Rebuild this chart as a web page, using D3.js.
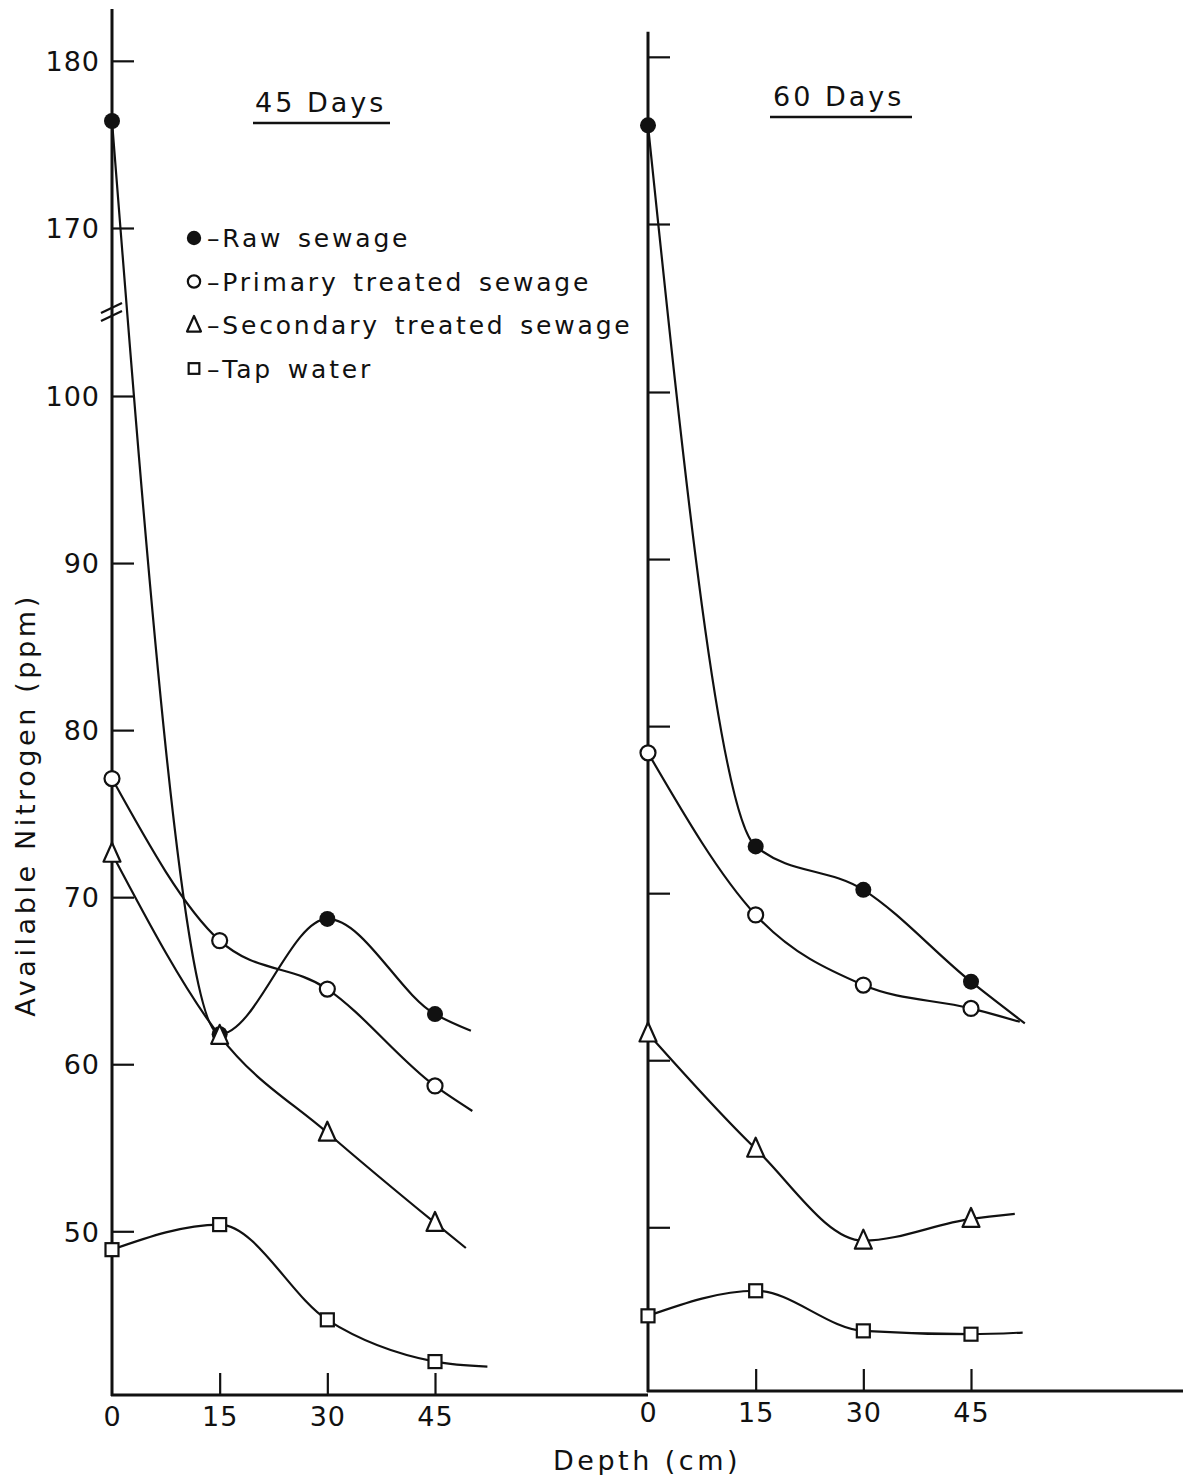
<!DOCTYPE html>
<html>
<head>
<meta charset="utf-8">
<script src="https://cdn.jsdelivr.net/npm/d3@7"></script>
<style>
  html, body { margin: 0; padding: 0; background: #fff; }
  svg { display: block; }
  text { font-family: "DejaVu Sans", sans-serif; fill: #111; }
</style>
</head>
<body>
<svg id="chart" width="1183" height="1475"></svg>
<script>
// depths sampled (cm)
const depths = [0, 15, 30, 45];
const xTicks = [0, 15, 30, 45];
const yTicks = [50, 60, 70, 80, 90, 100, 170, 180];

const seriesNames = ["Raw sewage", "Primary treated sewage", "Secondary treated sewage", "Tap water"];
const seriesMarks = ["dot", "circle", "triangle", "square"];
const panelTitles = ["45 Days", "60 Days"];

// 45 days, available N (ppm)
const raw45 = [176.4, 61.8, 68.7, 63.0];
const primary45 = [77.1, 67.4, 64.5, 58.7];
const secondary45 = [72.6, 61.7, 55.9, 50.5];
const tap45 = [48.9, 50.4, 44.7, 42.2];
// where each hand drawn curve runs out past the last depth: [depth, value]
const tails45 = [[50.0, 62.0], [50.2, 57.2], [49.3, 49.0], [52.3, 41.9]];

// 60 days
const raw60 = [175.9, 72.8, 70.2, 64.7];
const primary60 = [78.4, 68.7, 64.5, 63.1];
const secondary60 = [61.6, 54.7, 49.2, 50.5];
const tap60 = [44.7, 46.2, 43.8, 43.6];
const tails60 = [[52.5, 62.2], [51.8, 62.3], [51.1, 50.8], [52.2, 43.7]];

const ink = "#111";
const W = 1183;

const svg = d3.select("#chart");

// broken axis: 100..170 squeezed into the gap
const yBottom = 40.2;
const y = d3.scaleLinear()
    .domain([yBottom, 100, 170, 183.1])
    .range([1395, 396, 228, 9]);
const x = d3.scaleLinear().domain([0, 45]).range([0, 323]);

const panels = [
    { title: panelTitles[0], series: [raw45, primary45, secondary45, tap45], tails: tails45,
      x0: 112, dy: 0, top: 183.1, labels: true, brk: true,
      titleX: 255, titleY: 112, ulX: [253, 390], ulY: 123 },
    { title: panelTitles[1], series: [raw60, primary60, secondary60, tap60], tails: tails60,
      x0: 648, dy: -4, top: 181.5, labels: false, brk: false,
      titleX: 773, titleY: 106, ulX: [770, 912], ulY: 117 }
];

function marker(g, kind, cx, cy, s) {
    s = s || 1;
    if (kind === "dot") {
        g.append("circle").attr("cx", cx).attr("cy", cy).attr("r", 8 * s).attr("fill", ink);
    } else if (kind === "circle") {
        g.append("circle").attr("cx", cx).attr("cy", cy).attr("r", 7.5 * s)
            .attr("fill", "#fff").attr("stroke", ink).attr("stroke-width", 2.2);
    } else if (kind === "triangle") {
        g.append("path")
            .attr("d", `M${cx},${cy - 11 * s}L${cx + 8.5 * s},${cy + 8 * s}L${cx - 8.5 * s},${cy + 8 * s}Z`)
            .attr("fill", "#fff").attr("stroke", ink).attr("stroke-width", 2.2)
            .attr("stroke-linejoin", "round");
    } else {
        const h = 6.5 * s;
        g.append("rect").attr("x", cx - h).attr("y", cy - h).attr("width", 2 * h).attr("height", 2 * h)
            .attr("fill", "#fff").attr("stroke", ink).attr("stroke-width", 2.2);
    }
}

const line = d3.line()
    .x(d => x(d[0]))
    .y(d => y(d[1]))
    .curve(d3.curveMonotoneX);

panels.forEach((p, pi) => {
    const g = svg.append("g").attr("transform", `translate(${p.x0},${p.dy})`);
    const baseY = y(yBottom);
    const rightEnd = (pi < panels.length - 1 ? panels[pi + 1].x0 : W) - p.x0;

    // y axis ticks (pointing inwards) + labels
    const ya = g.append("g")
        .call(d3.axisLeft(y).tickValues(yTicks).tickSize(-22).tickPadding(12)
            .tickFormat(p.labels ? d3.format("d") : ""));
    ya.select(".domain").remove();
    ya.attr("font-family", "DejaVu Sans").attr("font-size", 27);
    ya.selectAll(".tick line").attr("stroke", ink).attr("stroke-width", 2.2);
    ya.selectAll(".tick text").attr("fill", ink).attr("dy", "0.36em").attr("letter-spacing", 1);

    g.append("line")
        .attr("x1", 0).attr("x2", 0)
        .attr("y1", baseY + 1).attr("y2", y(p.top))
        .attr("stroke", ink).attr("stroke-width", 3);

    // x axis
    const xa = g.append("g")
        .attr("transform", `translate(0,${baseY})`)
        .call(d3.axisBottom(x).tickValues(xTicks).tickSize(-22).tickPadding(12));
    xa.select(".domain").remove();
    xa.attr("font-family", "DejaVu Sans").attr("font-size", 27);
    xa.selectAll(".tick line").attr("stroke", ink).attr("stroke-width", 2.2)
        .filter(d => d === 0).remove();
    xa.selectAll(".tick text").attr("fill", ink).attr("letter-spacing", 1);

    g.append("line")
        .attr("x1", -1).attr("x2", rightEnd)
        .attr("y1", baseY).attr("y2", baseY)
        .attr("stroke", ink).attr("stroke-width", 3);

    // axis break marks
    if (p.brk) {
        const yb = (y(100) + y(170)) / 2;
        [-4, 4].forEach(o => {
            g.append("line")
                .attr("x1", -11).attr("y1", yb + o + 5)
                .attr("x2", 10).attr("y2", yb + o - 5)
                .attr("stroke", ink).attr("stroke-width", 2.2);
        });
    }

    // curves
    p.series.forEach((vals, si) => {
        const pts = depths.map((d, i) => [d, vals[i]]).concat([p.tails[si]]);
        g.append("path")
            .attr("d", line(pts))
            .attr("fill", "none")
            .attr("stroke", ink)
            .attr("stroke-width", 2.2);
    });
    p.series.forEach((vals, si) => {
        depths.forEach((d, i) => marker(g, seriesMarks[si], x(d), y(vals[i])));
    });

    // panel title
    svg.append("text")
        .attr("x", p.titleX).attr("y", p.titleY)
        .attr("font-size", 27).attr("letter-spacing", 3)
        .text(p.title);
    svg.append("line")
        .attr("x1", p.ulX[0]).attr("x2", p.ulX[1])
        .attr("y1", p.ulY).attr("y2", p.ulY)
        .attr("stroke", ink).attr("stroke-width", 2.5);
});

// legend
const legend = svg.append("g").attr("transform", "translate(194,238)");
seriesNames.forEach((name, i) => {
    const ry = i * 43.5;
    marker(legend, seriesMarks[i], 0, ry, i === 0 ? 0.9 : 0.82);
    legend.append("text")
        .attr("x", 13).attr("y", ry + 9)
        .attr("font-size", 25).attr("letter-spacing", 2.8).attr("word-spacing", 4)
        .text("\u2013" + name);
});

// axis titles
svg.append("text")
    .attr("transform", "translate(35,805) rotate(-90)")
    .attr("text-anchor", "middle")
    .attr("font-size", 27).attr("letter-spacing", 3.6)
    .text("Available Nitrogen (ppm)");

svg.append("text")
    .attr("x", 553).attr("y", 1470)
    .attr("font-size", 27).attr("letter-spacing", 3.5)
    .text("Depth (cm)");
</script>
</body>
</html>
